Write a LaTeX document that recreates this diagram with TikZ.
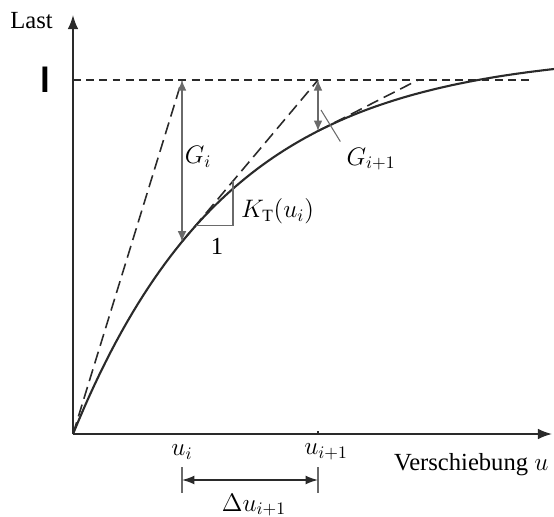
\documentclass[tikz,border=0pt]{standalone}
\usepackage{fontspec}
\setmainfont{Liberation Serif}
\newfontfamily\barfont{Liberation Sans}
\usetikzlibrary{arrows.meta}
\definecolor{ink}{HTML}{2A2A2A}
\definecolor{grey}{HTML}{6A6A6A}

\begin{document}
\begin{tikzpicture}[x=1cm,y=1cm,font={\fontsize{14}{16}\selectfont},
  axisline/.style={ink,line width=0.9pt,-{Latex[length=8pt,width=6pt]}},
  level/.style={ink,line width=1pt,dash pattern=on 4.5pt off 3pt},
  tangent/.style={ink,line width=0.9pt,dash pattern=on 7pt off 3.5pt},
  resid/.style={grey,line width=0.8pt,{Latex[length=6pt,width=5pt]}-{Latex[length=6pt,width=5pt]}},
  thinline/.style={grey,line width=0.6pt}]
\useasboundingbox (-1.46,-1.64) rectangle (9.62,8.68);
\coordinate (O) at (0,0);
\coordinate (ytip) at (0,8.38);
\coordinate (xtip) at (9.58,0);
\coordinate (L0) at (0,7.08);
\coordinate (L1) at (9.18,7.08);
\coordinate (Pi) at (2.18,3.846);
\coordinate (Hi) at (2.18,7.08);
\coordinate (Pj) at (4.9,6.059);
\coordinate (Hj) at (4.9,7.08);
\coordinate (Hk) at (6.9,7.08);
\draw[axisline] (O) -- (ytip);
\draw[axisline] (O) -- (xtip);
\draw[level] (L0) -- (L1);
\draw[ink,line width=1.2pt] plot[domain=0:9.62,samples=90] (\x,{7.65*(1-exp(-\x/3.12))});
\draw[tangent] (O) -- (Hi);
\draw[tangent] (Pi) -- (Hj);
\draw[tangent] (Pj) -- (Hk);
\draw[resid] (Pi) -- (Hi);
\draw[resid] (Pj) -- (Hj);
\node[anchor=east] (last) at (-0.28,8.26) {Last};
\node (lev) at (-0.56,7.08) {\barfont\bfseries\fontsize{20}{20}\selectfont l};
\node (Gi) at (2.5,5.54) {$G_i$};
\node (Gj) at (5.96,5.5) {$G_{i+1}$};
\coordinate (lead) at (4.96,6.48);
\draw[thinline] (lead) -- (Gj.north west);
\coordinate (ta) at (2.45,4.167);
\coordinate (tb) at (3.2,4.167);
\coordinate (tc) at (3.2,5.059);
\draw[thinline] (ta) -- (tb) -- (tc);
\node[anchor=west] (KT) at (3.24,4.46) {$K_{\mathrm{T}}(u_i)$};
\node (one) at (2.88,3.76) {1};
\draw[ink,line width=0.6pt] (4.9,0) -- (4.9,0.07);
\node (ui) at (2.18,-0.36) {$u_i$};
\node (uj) at (5.06,-0.36) {$u_{i+1}$};
\node[anchor=west] (vs) at (6.3,-0.62) {Verschiebung $u$};
\foreach \u in {2.18,4.9} {\draw[thinline] (\u,-0.66) -- (\u,-1.18);}
\coordinate (da) at (2.18,-0.92);
\coordinate (db) at (4.9,-0.92);
\draw[ink,line width=0.8pt,{Latex[length=7pt,width=5pt]}-{Latex[length=7pt,width=5pt]}] (da) -- (db);
\node (du) at (3.62,-1.42) {$\Delta u_{i+1}$};
\end{tikzpicture}
\end{document}
